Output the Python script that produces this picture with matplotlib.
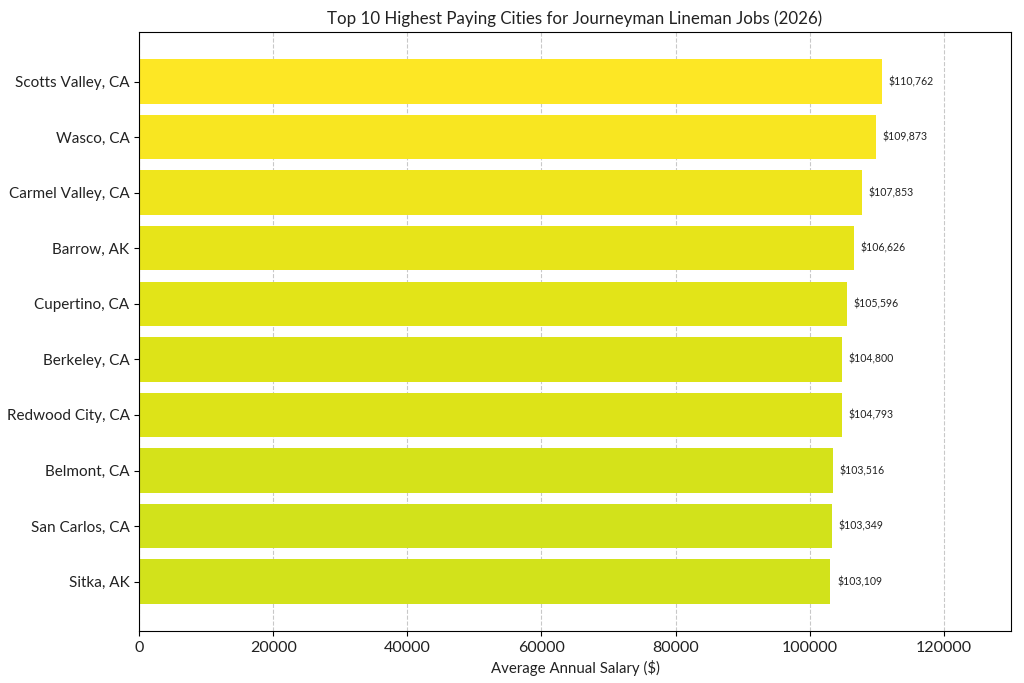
import matplotlib
matplotlib.use("Agg")
import matplotlib.pyplot as plt
import numpy as np

cities = ["Scotts Valley, CA", "Wasco, CA", "Carmel Valley, CA", "Barrow, AK",
          "Cupertino, CA", "Berkeley, CA", "Redwood City, CA", "Belmont, CA",
          "San Carlos, CA", "Sitka, AK"]
salaries = [110762, 109873, 107853, 106626, 105596, 104800, 104793, 103516, 103349, 103109]

plt.rcParams['font.family'] = ['Lato', 'DejaVu Sans']

fig, ax = plt.subplots(figsize=(10.24, 6.83), dpi=100)
fig.subplots_adjust(left=0.136, right=0.987, top=0.953, bottom=0.076)

vals = np.array(salaries)
colors = plt.cm.viridis(vals / vals.max())
y = np.arange(len(cities))
ax.barh(y, vals, height=0.8, color=colors)
ax.set_yticks(y)
ax.set_yticklabels(cities, fontsize=11, color="#222222")
ax.invert_yaxis()

for yi, v in zip(y, vals):
    ax.text(v + 1000, yi, f"${v:,}", va="center", ha="left", fontsize=7.6, color="#222222")

ax.set_xlim(0, 130000)
ax.tick_params(axis="x", labelsize=11.5, labelcolor="#222222")
ax.set_xlabel("Average Annual Salary ($)", fontsize=10.8, color="#222222")
ax.set_title("Top 10 Highest Paying Cities for Journeyman Lineman Jobs (2026)",
             fontsize=12.2, color="#222222")
ax.grid(axis="x", linestyle="--", color="#bbbbbb", alpha=0.8)
ax.set_axisbelow(True)

fig.savefig("out.png")
